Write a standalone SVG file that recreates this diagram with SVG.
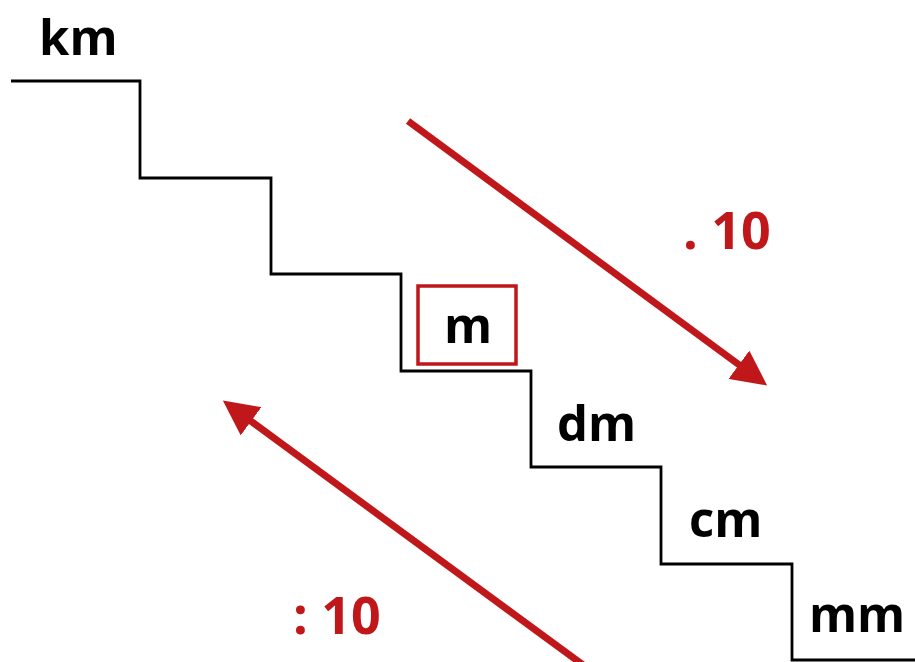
<svg xmlns="http://www.w3.org/2000/svg" width="915" height="662" viewBox="0 0 915 662">
  <style>
    .unit { font-family: "Open Sans", "Liberation Sans", sans-serif; font-weight: bold; font-size: 49px; fill: #000; }
    .op { font-family: "Open Sans", "Liberation Sans", sans-serif; font-weight: bold; font-size: 52px; fill: #C0171B; }
    .stairs { fill: none; stroke: #000; stroke-width: 2.8; }
    .arrow { fill: none; stroke: #C0171B; stroke-width: 7; }
  </style>
  <defs>
    <marker id="head" markerWidth="5" markerHeight="5" refX="3.2" refY="2.5" orient="auto" markerUnits="strokeWidth">
      <path d="M0,0 L5,2.5 L0,5 Z" fill="#C0171B"/>
    </marker>
  </defs>
  <rect width="915" height="662" fill="#fff"/>

  <!-- staircase outline -->
  <path class="stairs" d="M11,81 H140 V178 H271 V274 H401 V371 H531 V467 H661 V564 H792 V660 H915"/>

  <!-- conversion arrows -->
  <g id="connectors">
    <line class="arrow" x1="408" y1="121" x2="757" y2="378" marker-end="url(#head)"/>
    <line class="arrow" x1="590" y1="670" x2="233" y2="408" marker-end="url(#head)"/>
  </g>

  <g id="km"><text class="unit" x="39" y="55">km</text></g>
  <g id="m">
    <rect x="418" y="286" width="98" height="78" fill="none" stroke="#C0171B" stroke-width="3.5"/>
    <text class="unit" x="444" y="343">m</text>
  </g>
  <g id="dm"><text class="unit" x="557" y="441">dm</text></g>
  <g id="cm"><text class="unit" x="689" y="537">cm</text></g>
  <g id="mm"><text class="unit" x="809" y="632">mm</text></g>

  <g id="times"><text class="op" x="683" y="249">. 10</text></g>
  <g id="divide"><text class="op" x="293" y="634">: 10</text></g>
</svg>
